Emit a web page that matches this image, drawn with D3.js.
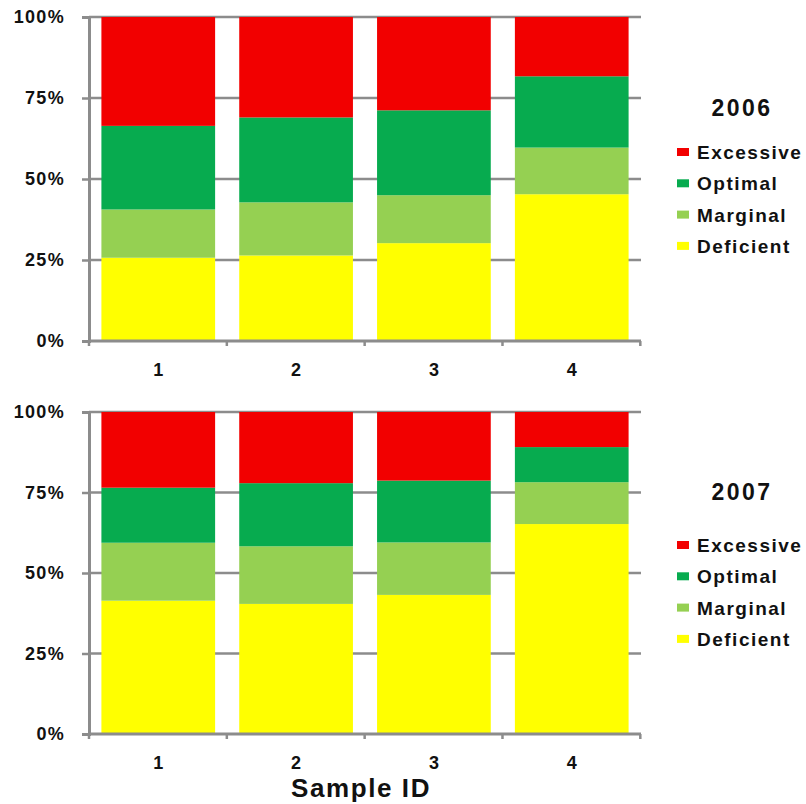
<!DOCTYPE html>
<html>
<head>
<meta charset="utf-8">
<script src="https://cdn.jsdelivr.net/npm/d3@7"></script>
<style>
  html, body { margin: 0; padding: 0; background: #fff; }
  svg { display: block; font-family: "Liberation Sans", Arial, Helvetica, sans-serif; }
</style>
</head>
<body>
<svg id="chart" width="806" height="804"></svg>
<script>
// Sample IDs along the x axis
const sampleIds = ["1", "2", "3", "4"];
// Stack order, bottom to top
const classes = ["Deficient", "Marginal", "Optimal", "Excessive"];
const classColors = ["#FFFF00", "#95D052", "#07AB4F", "#F20000"];
const yTicks = [0, 0.25, 0.5, 0.75, 1];

// Share of samples in each class (%), 2006
const deficient2006 = [25.7, 26.4, 30.2, 45.3];
const marginal2006  = [14.9, 16.4, 14.8, 14.4];
const optimal2006   = [25.8, 26.2, 26.2, 22.0];
const excessive2006 = [33.6, 31.0, 28.8, 18.3];

// Share of samples in each class (%), 2007
const deficient2007 = [41.4, 40.4, 43.2, 65.2];
const marginal2007  = [18.0, 17.9, 16.3, 13.0];
const optimal2007   = [17.1, 19.6, 19.2, 10.9];
const excessive2007 = [23.5, 22.1, 21.3, 10.9];

const years = ["2006", "2007"];

const svg = d3.select("#chart");
const gray = "#8c8c8c";
const fontStack = '"Liberation Sans", Arial, Helvetica, sans-serif';

function buildRows(def, mar, opt, exc) {
  return sampleIds.map((id, i) => ({
    id,
    Deficient: def[i] / 100,
    Marginal: mar[i] / 100,
    Optimal: opt[i] / 100,
    Excessive: exc[i] / 100
  }));
}

function drawPanel(opts) {
  const { rows, title, top, bottom, titleY, legendY, showXTitle } = opts;
  const left = 89, right = 641;

  const x = d3.scaleBand().domain(sampleIds).range([left, right])
    .paddingInner(0.175).paddingOuter(0.09);
  const y = d3.scaleLinear().domain([0, 1]).range([bottom, top]);
  const color = d3.scaleOrdinal().domain(classes).range(classColors);

  const g = svg.append("g");

  // horizontal gridlines
  g.append("g").selectAll("line")
    .data(yTicks.filter(t => t > 0))
    .join("line")
    .attr("x1", left).attr("x2", right)
    .attr("y1", d => y(d)).attr("y2", d => y(d))
    .attr("stroke", gray).attr("stroke-width", 2.5);

  // stacked bars
  const series = d3.stack().keys(classes)(rows);
  g.append("g").selectAll("g")
    .data(series)
    .join("g")
    .attr("fill", d => color(d.key))
    .selectAll("rect")
    .data(d => d)
    .join("rect")
    .attr("x", d => x(d.data.id))
    .attr("width", x.bandwidth())
    .attr("y", d => y(d[1]))
    .attr("height", d => y(d[0]) - y(d[1]));

  // y axis
  const yAxis = g.append("g")
    .attr("transform", `translate(${left},0)`)
    .call(d3.axisLeft(y).tickValues(yTicks).tickFormat(d3.format(".0%")).tickSize(7).tickPadding(17));
  yAxis.select(".domain").attr("stroke", gray).attr("stroke-width", 3);
  yAxis.selectAll(".tick line").attr("stroke", gray).attr("stroke-width", 2.5);
  yAxis.selectAll(".tick text")
    .attr("fill", "#111").attr("font-size", 18).attr("font-weight", "bold")
    .attr("font-family", fontStack).style("letter-spacing", "1.3px");

  // x axis: category boundary ticks and centred labels
  const xAxisG = g.append("g").attr("transform", `translate(0,${bottom})`);
  xAxisG.append("line")
    .attr("x1", left).attr("x2", right)
    .attr("stroke", gray).attr("stroke-width", 3);
  const step = x.step();
  const bounds = d3.range(sampleIds.length + 1).map(i => left + i * step);
  xAxisG.selectAll("line.bound")
    .data(bounds)
    .join("line").attr("class", "bound")
    .attr("x1", d => d).attr("x2", d => d)
    .attr("y1", 0).attr("y2", 5)
    .attr("stroke", gray).attr("stroke-width", 2.5);
  xAxisG.selectAll("text")
    .data(sampleIds)
    .join("text")
    .attr("x", d => x(d) + x.bandwidth() / 2)
    .attr("y", 35)
    .attr("text-anchor", "middle")
    .attr("font-size", 18).attr("font-weight", "bold")
    .attr("fill", "#111")
    .text(d => d);

  if (showXTitle) {
    svg.append("text")
      .attr("x", 361).attr("y", 797)
      .attr("text-anchor", "middle")
      .attr("font-size", 26).attr("font-weight", "bold")
      .attr("fill", "#111")
      .style("letter-spacing", "1.6px")
      .text("Sample ID");
  }

  // year title
  svg.append("text")
    .attr("x", 742).attr("y", titleY)
    .attr("text-anchor", "middle")
    .attr("font-size", 23).attr("font-weight", "bold")
    .attr("fill", "#111")
    .style("letter-spacing", "2.5px")
    .text(title);

  // legend, top entry first
  const legendOrder = classes.slice().reverse();
  const lg = svg.append("g").selectAll("g")
    .data(legendOrder)
    .join("g")
    .attr("transform", (d, i) => `translate(677,${legendY + i * 31.3})`);
  lg.append("rect")
    .attr("x", 0).attr("y", -11)
    .attr("width", 12).attr("height", 8)
    .attr("fill", d => color(d));
  lg.append("text")
    .attr("x", 20).attr("y", 0)
    .attr("font-size", 19).attr("font-weight", "bold")
    .attr("fill", "#111")
    .style("letter-spacing", "1.5px")
    .text(d => d);
}

drawPanel({
  rows: buildRows(deficient2006, marginal2006, optimal2006, excessive2006),
  title: years[0], top: 17, bottom: 341, titleY: 116, legendY: 159, showXTitle: false
});
drawPanel({
  rows: buildRows(deficient2007, marginal2007, optimal2007, excessive2007),
  title: years[1], top: 412, bottom: 734, titleY: 500, legendY: 552, showXTitle: true
});
</script>
</body>
</html>
